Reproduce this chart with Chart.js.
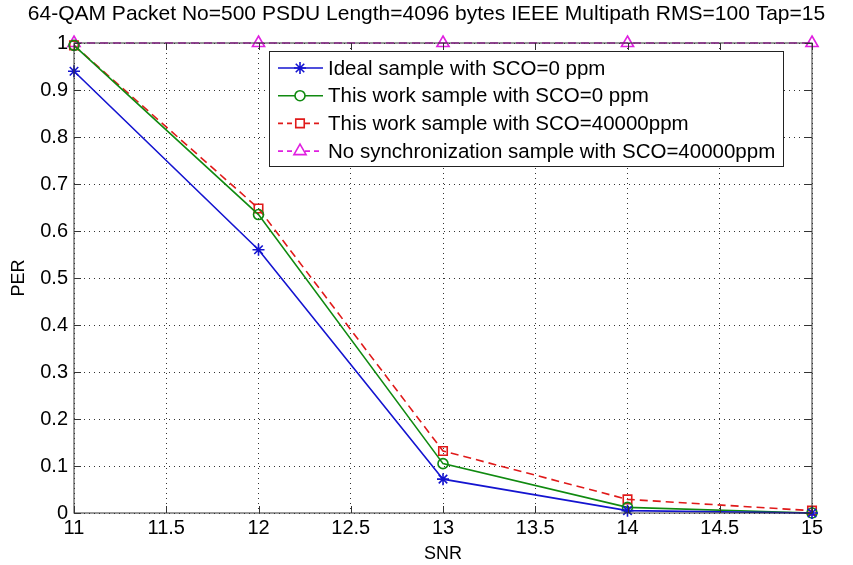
<!DOCTYPE html>
<html>
<head>
<meta charset="utf-8">
<script src="https://cdn.jsdelivr.net/npm/chart.js@4/dist/chart.umd.min.js"></script>
<style>
	html, body { margin: 0; padding: 0; background: #ffffff; }
	#wrap { width: 853px; height: 565px; }
</style>
</head>
<body>
<div id="wrap"><canvas id="myChart" width="853" height="565"></canvas></div>
<script>
// values
const snr = [11, 12, 13, 14, 15];
const idealSco0 = [0.94, 0.56, 0.072, 0.005, 0];
const thisWorkSco0 = [0.995, 0.635, 0.105, 0.012, 0];
const thisWorkSco40k = [0.995, 0.648, 0.132, 0.029, 0.005];
const noSyncSco40k = [1, 1, 1, 1, 1];

const seriesNames = [
	'Ideal sample with SCO=0 ppm',
	'This work sample with SCO=0 ppm',
	'This work sample with SCO=40000ppm',
	'No synchronization sample with SCO=40000ppm'
];
const seriesValues = [idealSco0, thisWorkSco0, thisWorkSco40k, noSyncSco40k];
const seriesColors = ['#1414d0', '#108a10', '#e01a1a', '#e020e0'];
const seriesMarkers = ['star', 'circle', 'rect', 'triangle'];
const seriesDash = [[], [], [8, 5], [8, 5]];
const markerRadius = [6, 5, 6, 7];

const font = 'Liberation Sans, Arial, sans-serif';

function toPoints(values) {
	const pts = [];
	for (let i = 0; i < snr.length; i++) {
		pts.push({ x: snr[i], y: values[i] });
	}
	return pts;
}

function shortNum(v) {
	return String(Math.round(v * 10) / 10);
}

const datasets = [];
for (let i = 0; i < seriesNames.length; i++) {
	datasets.push({
		label: seriesNames[i],
		data: toPoints(seriesValues[i]),
		borderColor: seriesColors[i],
		backgroundColor: 'rgba(0,0,0,0)',
		borderWidth: 1.6,
		borderDash: seriesDash[i],
		pointStyle: seriesMarkers[i],
		pointRadius: markerRadius[i],
		pointBorderWidth: 1.6,
		pointBorderColor: seriesColors[i],
		pointBackgroundColor: 'rgba(0,0,0,0)',
		tension: 0,
		clip: false
	});
}

// box round the plot, inner ticks and the legend, drawn like matlab does
const matlabFrame = {
	id: 'matlabFrame',
	afterDatasetsDraw: (chart) => {
		const { ctx, chartArea } = chart;
		const a = chartArea;
		ctx.save();
		ctx.strokeStyle = '#333';
		ctx.lineWidth = 1;
		ctx.setLineDash([]);
		ctx.strokeRect(a.left, a.top, a.right - a.left, a.bottom - a.top);

		// inner ticks
		const xs = chart.scales.x, ys = chart.scales.y;
		ctx.beginPath();
		xs.ticks.forEach(t => {
			const px = Math.round(xs.getPixelForValue(t.value)) + 0.5;
			ctx.moveTo(px, a.bottom); ctx.lineTo(px, a.bottom - 7);
			ctx.moveTo(px, a.top); ctx.lineTo(px, a.top + 7);
		});
		ys.ticks.forEach(t => {
			const py = Math.round(ys.getPixelForValue(t.value)) + 0.5;
			ctx.moveTo(a.left, py); ctx.lineTo(a.left + 7, py);
			ctx.moveTo(a.right, py); ctx.lineTo(a.right - 7, py);
		});
		ctx.stroke();

		// legend box
		const lx = 269, ly = 51, lw = 514, lh = 115;
		ctx.fillStyle = '#ffffff';
		ctx.fillRect(lx, ly, lw, lh);
		ctx.strokeStyle = '#222';
		ctx.strokeRect(lx + 0.5, ly + 0.5, lw, lh);

		ctx.font = '20.5px ' + font;
		ctx.textBaseline = 'middle';
		ctx.textAlign = 'left';
		for (let i = 0; i < datasets.length; i++) {
			const ds = datasets[i];
			const y = 68 + i * 27.7;
			ctx.strokeStyle = ds.borderColor;
			ctx.lineWidth = 1.6;
			ctx.setLineDash(ds.borderDash.length ? [5, 4] : []);
			ctx.beginPath();
			ctx.moveTo(278, y); ctx.lineTo(323, y);
			ctx.stroke();
			ctx.setLineDash([]);
			ctx.fillStyle = '#ffffff';
			Chart.helpers.drawPoint(ctx, {
				pointStyle: ds.pointStyle,
				radius: ds.pointRadius,
				rotation: 0,
				borderWidth: 1.6
			}, 300, y);
			ctx.fillStyle = '#000';
			ctx.fillText(ds.label, 328, y + 1);
		}
		ctx.restore();
	}
};

const ctx = document.getElementById('myChart').getContext('2d');

const config = {
	type: 'line',
	data: { datasets: datasets },
	options: {
		responsive: false,
		animation: false,
		layout: { padding: { left: 0, right: 0, top: 0, bottom: 0 } },
		scales: {
			x: {
				type: 'linear',
				min: 11,
				max: 15,
				ticks: { stepSize: 0.5, color: '#000', font: { family: font, size: 20 }, padding: 3, maxRotation: 0, callback: (v) => shortNum(v) },
				grid: { color: '#333', lineWidth: 1, drawTicks: false },
				border: { display: false, dash: [1, 4] },
				title: { display: true, text: 'SNR', color: '#000', font: { family: font, size: 18 }, padding: { top: 0, bottom: 0 } },
				afterFit: (s) => { s.height = 52; }
			},
			y: {
				min: 0,
				max: 1,
				ticks: { stepSize: 0.1, color: '#000', font: { family: font, size: 20 }, padding: 6, callback: (v) => shortNum(v) },
				grid: { color: '#333', lineWidth: 1, drawTicks: false },
				border: { display: false, dash: [1, 4] },
				title: { display: true, text: 'PER', color: '#000', font: { family: font, size: 18 }, padding: { top: 8, bottom: 0 } },
				afterFit: (s) => { s.width = 74; }
			},
			// empty right-hand axis, only keeps the margin on the right
			yRight: {
				position: 'right',
				min: 0,
				max: 1,
				grid: { display: false },
				ticks: { display: false },
				border: { display: false },
				afterFit: (s) => { s.width = 41; }
			}
		},
		plugins: {
			legend: { display: false },
			tooltip: { enabled: false },
			title: {
				display: true,
				text: '64-QAM Packet No=500 PSDU Length=4096 bytes IEEE Multipath RMS=100 Tap=15',
				color: '#000',
				font: { family: font, size: 21, weight: 'normal' },
				padding: { top: 2, bottom: 15.8 }
			}
		}
	},
	plugins: [matlabFrame]
};

const myChart = new Chart(ctx, config);
</script>
</body>
</html>
